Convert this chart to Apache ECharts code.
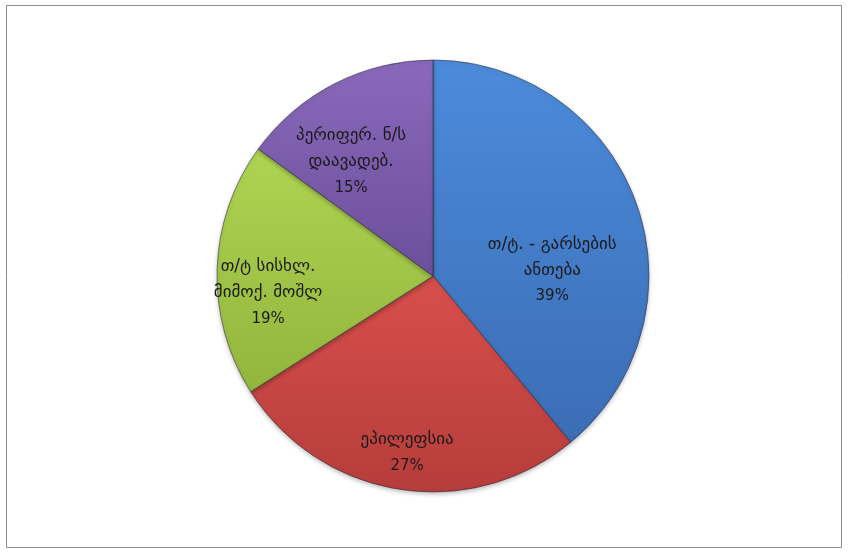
<!DOCTYPE html>
<html><head><meta charset="utf-8">
<script src="https://cdn.jsdelivr.net/npm/echarts@6/dist/echarts.min.js"></script>
<style>html,body{margin:0;padding:0;background:#fff}#c{width:848px;height:551px}</style>
</head><body><div id="c"></div>
<script>
const categories = ['თ/ტ. - გარსების\nანთება', 'ეპილეფსია', 'თ/ტ სისხლ.\nმიმოქ. მოშლ', 'პერიფერ. ნ/ს\nდაავადებ.'];
const values = [39, 27, 19, 15];
const colorsTop = ['#4c8bdb', '#d84f4c', '#afd452', '#8a69bb'];
const colorsBottom = ['#3b6db4', '#b53d3b', '#92b53c', '#6c4f9b'];
const labelNudge = [[-36, 50], [0, 14], [0, 22], [-7, 33]];

const chart = echarts.init(document.getElementById('c'));
const grad = (i) => ({type:'linear', x:0, y:0, x2:0, y2:1, colorStops:[{offset:0,color:colorsTop[i]},{offset:1,color:colorsBottom[i]}]});
const dataMain = categories.map((c,i)=>({name:c, value:values[i], itemStyle:{color:grad(i)}}));
const dataLabel = categories.map((c,i)=>({name:c, value:values[i], label:{offset:labelNudge[i]}}));
chart.setOption({
  animation:false,
  graphic:[{type:'rect', shape:{x:6.5,y:5.5,width:835,height:542}, style:{fill:'none', stroke:'#8c8c8c', lineWidth:1}, silent:true}],
  series:[
    {type:'pie', center:[433,276], radius:[0,216], startAngle:90, clockwise:true, silent:true,
     itemStyle:{borderColor:'rgba(40,40,60,0.55)', borderWidth:1, shadowColor:'rgba(0,0,0,0.25)', shadowBlur:4, shadowOffsetY:2},
     label:{show:false}, labelLine:{show:false}, data:dataMain},
    {type:'pie', center:[433,276], radius:[108,216], startAngle:90, clockwise:true, silent:true,
     itemStyle:{color:'rgba(0,0,0,0)'},
     label:{show:true, position:'inside',
       formatter:(p)=>p.name.split('\n').map(s=>'{g|'+s+'}').join('\n')+'\n{p|'+p.value+'%}',
       rich:{
         g:{fontFamily:'DejaVu Sans', fontSize:17, lineHeight:26, color:'#1a1a1a', align:'center'},
         p:{fontFamily:'DejaVu Sans', fontSize:15, lineHeight:26, color:'#1a1a1a', align:'center'}
       },
       align:'center'},
     labelLine:{show:false}, data:dataLabel}
  ]
});
</script></body></html>
